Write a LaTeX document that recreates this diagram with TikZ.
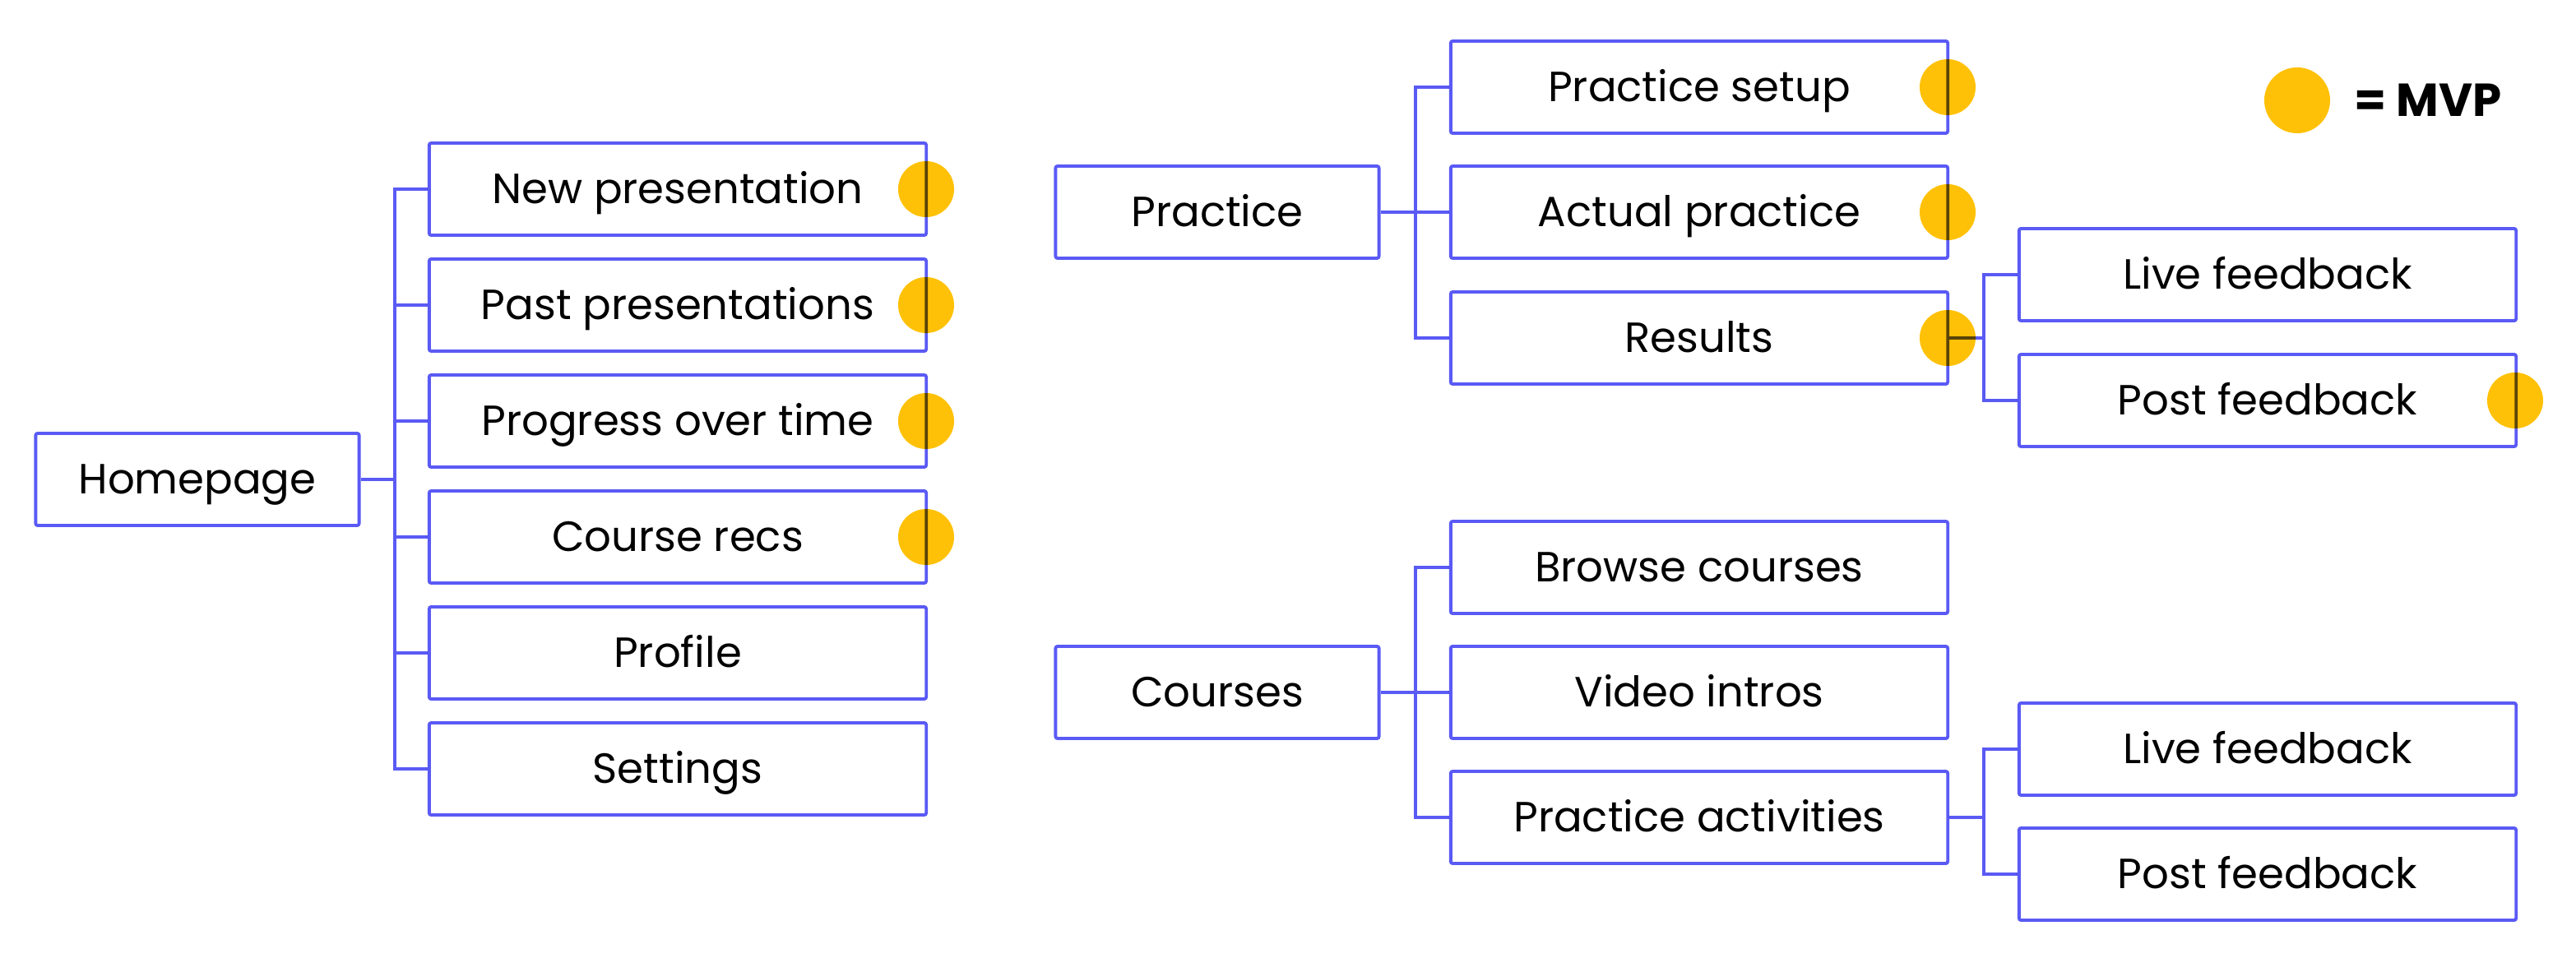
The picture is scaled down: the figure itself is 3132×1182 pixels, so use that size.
\documentclass[tikz,border=0pt]{standalone}
\usepackage{fontspec}
\setmainfont{Poppins}
\usetikzlibrary{positioning}
\definecolor{navblue}{RGB}{90,90,245}
\definecolor{mvpgold}{RGB}{255,193,7}

\begin{document}
\begin{tikzpicture}[x=0.01cm, y=-0.01cm, inner sep=0pt,
      box/.style={draw=navblue, line width=1.1pt, rounded corners=0.7pt,
        minimum height=1.12cm, text height=10.2pt, text depth=0pt,
        font=\fontsize{14.6}{18}\selectfont},
      root/.style={box, minimum width=3.93cm},
      leaf/.style={box, minimum width=6.04cm},
      link/.style={draw=navblue, line width=1.1pt},
      mvp/.style={circle, fill=mvpgold, minimum size=0.68cm}]
      \useasboundingbox (0,0) rectangle (3132,1182);
      % mvp dots, under everything
      \node[mvp] (d_np) at (1126,230) {};
      \node[mvp] (d_pp) at (1126,371) {};
      \node[mvp] (d_pot) at (1126,512) {};
      \node[mvp] (d_cr) at (1126,653) {};
      \node[mvp] (d_ps) at (2368,106) {};
      \node[mvp] (d_ap) at (2368,258) {};
      \node[mvp] (d_res) at (2368,411) {};
      \node[mvp] (d_pf1) at (3058,487) {};
      % legend
      \node[mvp, minimum size=0.8cm] (key) at (2793,122) {};
      \node[font=\fontsize{16}{18}\selectfont\bfseries, right=0.28cm of key] (key_txt) {= MVP};
      \begin{scope}[blend mode=multiply]
      % homepage
      \node[root] (home) at (240,583) {Homepage};
      \node[leaf] (np) at (824,230) {New presentation};
      \node[leaf] (pp) at (824,371) {Past presentations};
      \node[leaf] (pot) at (824,512) {Progress over time};
      \node[leaf] (cr) at (824,653) {Course recs};
      \node[leaf] (prof) at (824,794) {Profile};
      \node[leaf] (sett) at (824,935) {Settings};
      \coordinate (hbus) at (480,583);
      \draw[link] (home.east) -- (hbus)
        foreach \c in {np,pp,pot,cr,prof,sett} {(hbus) |- (\c.west)};
      % practice
      \node[root] (prac) at (1480,258) {Practice};
      \node[leaf] (ps) at (2066,106) {Practice setup};
      \node[leaf] (ap) at (2066,258) {Actual practice};
      \node[leaf] (res) at (2066,411) {Results};
      \node[leaf] (lf_1) at (2757,334) {Live feedback};
      \node[leaf] (pf_1) at (2757,487) {Post feedback};
      \coordinate (pbus) at (1721,258);
      \coordinate (rbus) at (2412,411);
      \draw[link] (prac.east) -- (pbus)
        foreach \c in {ps,ap,res} {(pbus) |- (\c.west)};
      \draw[link] (res.east) -- (rbus)
        foreach \c in {lf_1,pf_1} {(rbus) |- (\c.west)};
      % courses
      \node[root] (crs) at (1480,842) {Courses};
      \node[leaf] (bc) at (2066,690) {Browse courses};
      \node[leaf] (vi) at (2066,842) {Video intros};
      \node[leaf] (pa) at (2066,994) {Practice activities};
      \node[leaf] (lf_2) at (2757,911) {Live feedback};
      \node[leaf] (pf_2) at (2757,1063) {Post feedback};
      \coordinate (cbus) at (1721,842);
      \coordinate (abus) at (2412,994);
      \draw[link] (crs.east) -- (cbus)
        foreach \c in {bc,vi,pa} {(cbus) |- (\c.west)};
      \draw[link] (pa.east) -- (abus)
        foreach \c in {lf_2,pf_2} {(abus) |- (\c.west)};
      \end{scope}
  \end{tikzpicture}
\end{document}
